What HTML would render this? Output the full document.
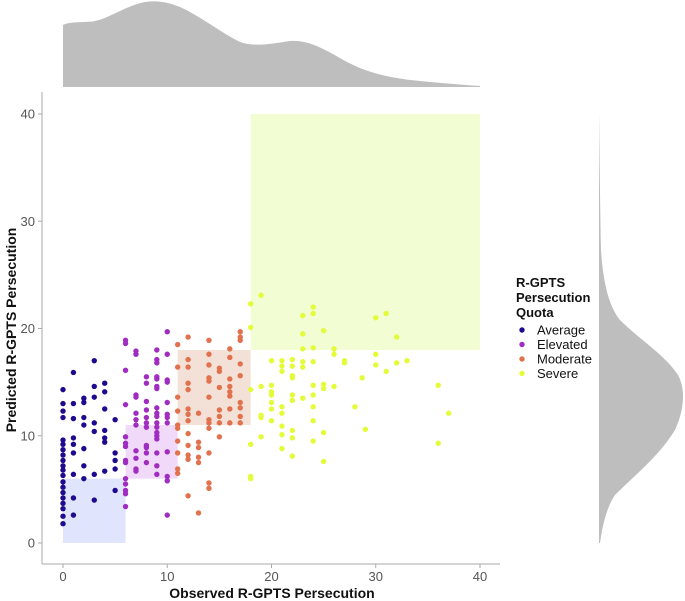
<!DOCTYPE html>
<html><head><meta charset="utf-8"><style>
body{margin:0;background:#fff;}
svg{display:block;font-family:"Liberation Sans",Arial,sans-serif;}
</style></head><body>
<svg id="chart" width="685" height="601" viewBox="0 0 685 601">
<path fill="#bebebe" d="M63,87 L63,25 C70,21 85,23 95,21 C110,18 125,6 145,2 C160,0 170,3 180,7 C200,16 220,32 240,42 C255,47 270,44 290,41 C310,40 325,50 340,58 C360,70 380,76 410,80 C440,83 465,85 480,86 L480,87 Z"/>
<path fill="#bebebe" d="M599,113 L599,543 L600,543 C602,530 605,510 615,495 C635,475 660,455 675,430 C684,410 686,390 678,375 C665,355 640,340 620,320 C608,305 603,280 601,250 C600,200 599.5,150 599,113 Z"/>
<g id="plot"></g>
<line x1="42" y1="92" x2="42" y2="564" stroke="#aaa" stroke-width="1"/>
<line x1="42" y1="564" x2="500" y2="564" stroke="#aaa" stroke-width="1"/>
<g id="ticks"></g>
<text x="272" y="598" text-anchor="middle" font-size="14" font-weight="bold" fill="#111">Observed R-GPTS Persecution</text>
<text transform="translate(16,330) rotate(-90)" text-anchor="middle" font-size="14" font-weight="bold" fill="#111">Predicted R-GPTS Persecution</text>
<g>
<text font-size="13" font-weight="bold" fill="#111"><tspan x="516" y="287">R-GPTS</tspan><tspan x="516" y="302">Persecution</tspan><tspan x="516" y="317">Quota</tspan></text>
<g id="legend-items"></g>
</g>
</svg>
<script>
const categories=["Average","Elevated","Moderate","Severe"];
const colors=["#1f0a8f","#a02cc0","#e2714e","#e4fb3a"];
const zoneRanges=[[0,6],[6,11],[11,18],[18,40]];
const zoneColors=["#e0e4fc","#f1d9f9","#f3e1d7","#f2fdd4"];
const xTicks=[0,10,20,30,40];
const yTicks=[0,10,20,30,40];
const avgX=[0,0,0,0,0,0,0,0,0,0,0,0,0,0,0,0,0,0,0,0,1,1,1,1,1,1,1,1,1,2,2,2,2,2,2,2,3,3,3,3,3,3,3,4,4,4,4,4,4,4,5,5,5,5,5];
const avgY=[14.3,13,12.3,11.7,9.6,9.2,8.7,8.2,7.7,7.2,6.8,6.3,5.7,5.2,4.7,4.2,3.7,3.2,2.5,1.8,15.9,13.0,11.6,9.8,9.2,8.4,6.4,4.2,2.6,13.5,13.1,11.7,11.0,8.8,7.2,6.0,17.0,14.6,13.6,11.2,10.4,6.4,4.0,14.9,14.1,12.5,10.5,9.8,9.4,6.7,11.5,8.4,7.7,6.9,4.9];
const eleX=[6,6,6,6,6,6,6,6,6,6,6,6,6,6,7,7,7,7,7,7,7,7,7,7,7,8,8,8,8,8,8,8,8,8,8,8,9,9,9,9,9,9,9,9,9,9,9,9,9,9,9,9,9,9,10,10,10,10,10,10,10,10,10,10,10,10];
const eleY=[18.9,18.6,16.1,12.9,9.9,9.3,9.0,7.7,7.5,6.0,5.5,4.9,4.6,3.4,17.9,17.6,13.8,13.6,12.1,11.5,11.0,8.6,7.9,6.9,6.7,15.5,14.9,13.2,12.4,11.7,11.2,10.8,9.1,8.9,8.4,7.5,18.0,17.1,16.8,15.5,15.3,14.6,14.4,12.6,12.1,11.8,11.2,10.8,10.3,10.0,9.7,8.4,7.2,6.4,19.7,17.6,15.2,15.0,13.1,12.0,11.7,11.2,8.5,6.2,5.8,2.6];
const modX=[11,11,11,11,11,11,11,11,11,11,12,12,12,12,12,12,12,12,12,12,12,12,12,13,13,13,13,13,13,14,14,14,14,14,14,14,14,14,14,14,14,15,15,15,15,15,15,15,16,16,16,16,16,16,16,16,17,17,17,17,17,17,17,17,17];
const modY=[18.5,16.4,13.6,12.3,11.0,10.7,9.5,8.4,6.9,6.5,19.2,17.1,16.4,14.9,14.3,12.5,12.0,11.4,10.2,9.1,8.2,7.8,4.4,12.1,9.4,8.9,8.0,7.5,2.8,18.9,17.6,16.6,15.4,15.1,13.6,11.5,11.2,10.7,8.4,5.6,5.1,16.3,16.0,14.5,12.4,11.8,11.2,9.9,18.1,17.3,15.3,14.6,14.1,13.7,12.5,11.2,19.7,19.2,18.9,16.7,15.6,13.1,12.6,11.8,11.2];
const sevX=[19,18,18,24,24,23,30,31,32,25,23,23,24,26,26,30,27,27,20,21,21,22,22,23,23,24,30,32,33,31,21,22,22,28.7,18,19,20,20,20,22,22,23,24,24,25,25,26,36,20,20,21,21,24,28,37,19,19,20,24,21,22,29,25,19,21,22,24,36,18,21,22,25,18,18];
const sevY=[23.1,22.3,20.1,22.0,21.4,21.2,21.0,21.4,19.2,19.8,19.5,18.1,18.2,18.1,17.6,17.6,17.0,16.8,17.0,17.0,16.5,17.1,16.5,16.9,16.4,16.9,16.6,16.8,17.0,16.0,16.0,15.6,15.4,15.4,14.3,14.6,14.7,14.1,13.8,13.8,13.3,13.5,14.7,13.8,14.8,14.4,14.6,14.7,13.1,12.5,12.7,12.1,12.7,12.7,12.1,11.9,11.7,11.4,11.4,10.9,10.5,10.6,10.3,9.9,10.1,9.8,9.5,9.3,9.2,8.8,8.1,7.6,6.2,6.0];
const seriesX=[avgX,eleX,modX,sevX];
const seriesY=[avgY,eleY,modY,sevY];

const NS="http://www.w3.org/2000/svg";
function sx(v){return 63+v*10.425;}
function sy(v){return 543-v*10.725;}
const plot=document.getElementById('plot');
zoneRanges.forEach((r,i)=>{
  const el=document.createElementNS(NS,'rect');
  el.setAttribute('x',sx(r[0]));el.setAttribute('y',sy(r[1]));
  el.setAttribute('width',sx(r[1])-sx(r[0]));el.setAttribute('height',sy(r[0])-sy(r[1]));
  el.setAttribute('fill',zoneColors[i]);
  
  
  plot.appendChild(el);
});
seriesX.forEach((xs,i)=>{
  xs.forEach((xv,j)=>{
    const c=document.createElementNS(NS,'circle');
    c.setAttribute('cx',sx(xv));c.setAttribute('cy',sy(seriesY[i][j]));
    c.setAttribute('r',2.7);c.setAttribute('fill',colors[i]);
    
    
    plot.appendChild(c);
  });
});
const ticks=document.getElementById('ticks');
xTicks.forEach(t=>{
  const l=document.createElementNS(NS,'line');
  l.setAttribute('x1',sx(t));l.setAttribute('x2',sx(t));l.setAttribute('y1',564);l.setAttribute('y2',568);l.setAttribute('stroke','#aaa');
  
  
  ticks.appendChild(l);
  const tx=document.createElementNS(NS,'text');
  tx.setAttribute('x',sx(t));tx.setAttribute('y',581);tx.setAttribute('text-anchor','middle');tx.setAttribute('font-size','13');tx.setAttribute('fill','#555');
  tx.textContent=t;
  
  
  ticks.appendChild(tx);
});
yTicks.forEach(t=>{
  const l=document.createElementNS(NS,'line');
  l.setAttribute('x1',38);l.setAttribute('x2',42);l.setAttribute('y1',sy(t));l.setAttribute('y2',sy(t));l.setAttribute('stroke','#aaa');
  
  
  ticks.appendChild(l);
  const tx=document.createElementNS(NS,'text');
  tx.setAttribute('x',35);tx.setAttribute('y',sy(t)+4.5);tx.setAttribute('text-anchor','end');tx.setAttribute('font-size','13');tx.setAttribute('fill','#555');
  tx.textContent=t;
  
  
  ticks.appendChild(tx);
});
const leg=document.getElementById('legend-items');
categories.forEach((c,i)=>{
  const y=330+i*14.5;
  const d=document.createElementNS(NS,'circle');
  d.setAttribute('cx',522);d.setAttribute('cy',y);d.setAttribute('r',2.7);d.setAttribute('fill',colors[i]);
  
  
  leg.appendChild(d);
  const t=document.createElementNS(NS,'text');
  t.setAttribute('x',537);t.setAttribute('y',y+4.5);t.setAttribute('font-size','13');t.setAttribute('fill','#111');
  t.textContent=c;
  
  
  leg.appendChild(t);
});
</script>
</body></html>
